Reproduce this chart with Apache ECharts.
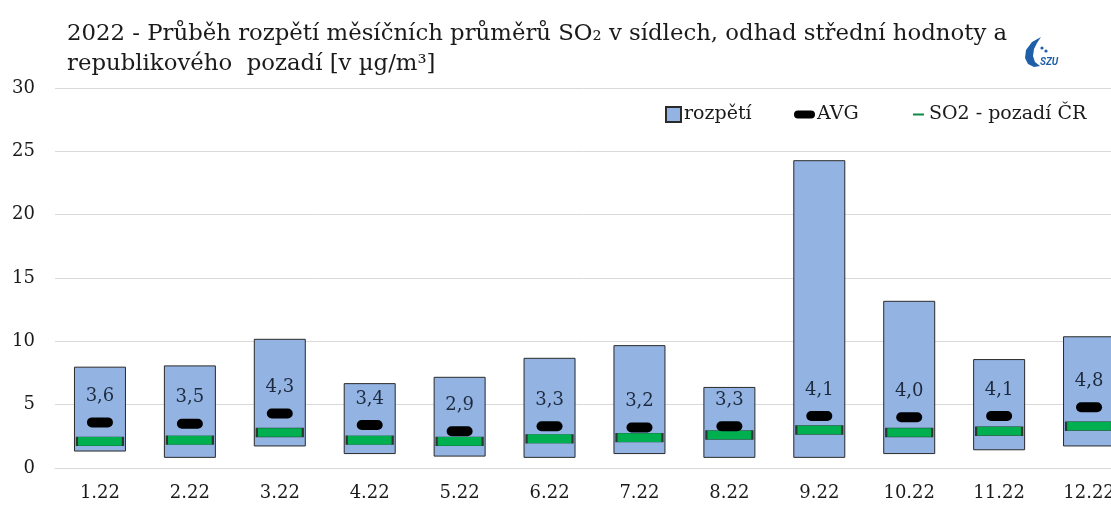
<!DOCTYPE html>
<html>
<head>
<meta charset="utf-8">
<script src="https://cdn.jsdelivr.net/npm/echarts@6/dist/echarts.min.js"></script>
<style>
  html, body { margin: 0; padding: 0; background: #fff; }
  #chart { width: 1111px; height: 506px; }
</style>
</head>
<body>
<div id="chart"></div>
<script>
// mesice 2022
var months = ['1.22', '2.22', '3.22', '4.22', '5.22', '6.22', '7.22', '8.22', '9.22', '10.22', '11.22', '12.22'];
// rozpeti mesicnich prumeru - spodni a horni hranice
var rangeMin = [1.3, 0.8, 1.7, 1.1, 0.9, 0.8, 1.1, 0.8, 0.8, 1.1, 1.4, 1.7];
var rangeMax = [8.0, 8.1, 10.2, 6.7, 7.2, 8.7, 9.7, 6.4, 24.3, 13.2, 8.6, 10.4];
// odhad stredni hodnoty
var avgValues = [3.6, 3.5, 4.3, 3.4, 2.9, 3.3, 3.2, 3.3, 4.1, 4.0, 4.1, 4.8];
// republikove pozadi
var background = [2.1, 2.2, 2.8, 2.2, 2.1, 2.3, 2.4, 2.6, 3.0, 2.8, 2.9, 3.3];
var yTicks = [0, 5, 10, 15, 20, 25, 30];

var font = 'DejaVu Serif';
var pill = 'path://M5,0 H21 A5,5 0 0 1 21,10 H5 A5,5 0 0 1 5,0 Z';

var chart = echarts.init(document.getElementById('chart'));

chart.setOption({
  animation: false,
  title: {
    text: '2022 - Průběh rozpětí měsíčních průměrů SO₂ v sídlech, odhad střední hodnoty a\nrepublikového  pozadí [v µg/m³]',
    left: 62,
    top: 14,
    textStyle: {
      fontFamily: font,
      fontSize: 22.8,
      fontWeight: 'normal',
      color: '#1a1a1a',
      lineHeight: 30
    }
  },
  legend: [
    {
      data: [{ name: 'rozpětí', icon: 'rect' }],
      left: 660, top: 100,
      itemWidth: 15, itemHeight: 15,
      textStyle: { fontFamily: font, fontSize: 19, color: '#1a1a1a', padding: [0, 0, 0, -2] }
    },
    {
      data: [{ name: 'AVG', icon: pill }],
      left: 789, top: 100,
      itemWidth: 21, itemHeight: 11,
      textStyle: { fontFamily: font, fontSize: 19, color: '#1a1a1a', padding: [0, 0, 0, -3] }
    },
    {
      data: [{ name: 'SO2 - pozadí ČR', icon: 'rect', itemStyle: { color: '#0f8a45', borderWidth: 0 } }],
      left: 908, top: 100,
      itemWidth: 11, itemHeight: 2,
      textStyle: { fontFamily: font, fontSize: 19, color: '#1a1a1a' }
    }
  ],
  grid: {
    left: 55,
    right: -23,
    top: 88,
    bottom: 38,
    outerBoundsMode: 'none'
  },
  xAxis: {
    type: 'category',
    data: months,
    axisLine: { lineStyle: { color: '#d9d9d9' } },
    axisTick: { show: false },
    axisLabel: {
      fontFamily: font,
      fontSize: 18,
      color: '#1a1a1a',
      margin: 16
    }
  },
  yAxis: {
    type: 'value',
    min: yTicks[0],
    max: yTicks[yTicks.length - 1],
    interval: 5,
    axisLine: { show: false },
    axisTick: { show: false },
    splitLine: { lineStyle: { color: '#d9d9d9' } },
    axisLabel: {
      fontFamily: font,
      fontSize: 18,
      color: '#1a1a1a',
      margin: 20
    }
  },
  series: [
    {
      name: 'base',
      type: 'bar',
      stack: 'r',
      silent: true,
      barWidth: 52,
      itemStyle: { color: 'transparent' },
      data: rangeMin
    },
    {
      name: 'rozpětí',
      type: 'bar',
      stack: 'r',
      barWidth: 52,
      itemStyle: { color: '#93b3e3', borderColor: '#2a2a2a', borderWidth: 1 },
      data: rangeMax.map(function (v, i) { return +(v - rangeMin[i]).toFixed(2); })
    },
    {
      name: 'SO2 - pozadí ČR',
      type: 'scatter',
      symbol: 'rect',
      symbolSize: [46, 9],
      itemStyle: { color: '#00b050', borderColor: '#2a3a30', borderWidth: 1, opacity: 1 },
      data: background
    },
    {
      name: 'AVG',
      type: 'scatter',
      symbol: pill,
      symbolSize: [26, 10],
      itemStyle: { color: '#000', opacity: 1 },
      label: {
        show: true,
        position: 'top',
        distance: 12,
        fontFamily: font,
        fontSize: 18,
        color: '#1c2a3c',
        formatter: function (p) { return p.value.toFixed(1).replace('.', ','); }
      },
      data: avgValues
    }
  ],
  // logo SZU
  graphic: [
    {
      type: 'polygon',
      shape: { points: [[1041, 37], [1032, 42], [1026, 50], [1025, 58], [1028, 64], [1034, 67], [1040, 66], [1035, 62], [1033, 56], [1034, 49], [1037, 43]] },
      style: { fill: '#1f5fa8' }
    },
    {
      type: 'circle',
      shape: { cx: 1042, cy: 48, r: 1.6 },
      style: { fill: '#1f5fa8' }
    },
    {
      type: 'circle',
      shape: { cx: 1046, cy: 51, r: 1.6 },
      style: { fill: '#1f5fa8' }
    },
    {
      type: 'text',
      left: 1040, top: 57,
      style: { text: 'SZU', font: 'italic bold 10px Roboto', fill: '#1f5fa8' }
    }
  ]
});
</script>
</body>
</html>
